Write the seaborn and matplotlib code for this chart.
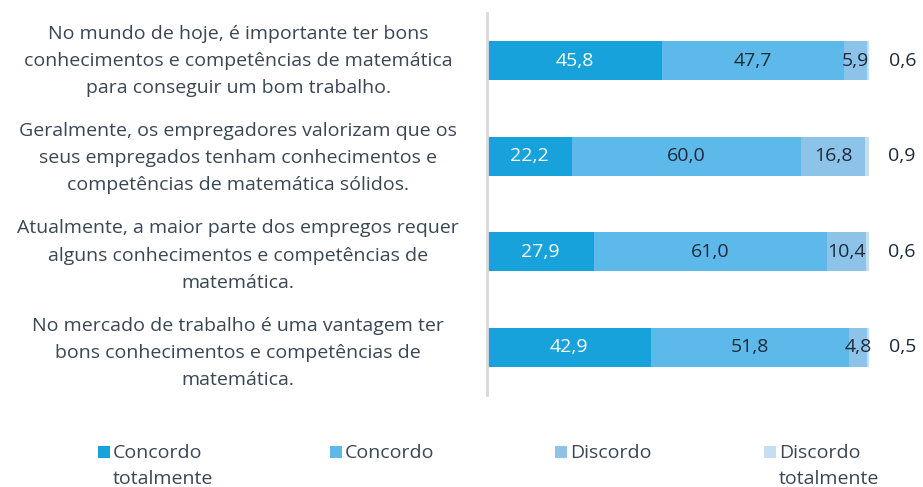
import numpy as np
import pandas as pd
import seaborn as sns
import matplotlib.pyplot as plt
from matplotlib.patches import Rectangle
from matplotlib.transforms import blended_transform_factory

# Survey statements (rows) and the four answer categories (stacked segments)
categories = [
    "No mundo de hoje, é importante ter bons\nconhecimentos e competências de matemática\npara conseguir um bom trabalho.",
    "Geralmente, os empregadores valorizam que os\nseus empregados tenham conhecimentos e\ncompetências de matemática sólidos.",
    "Atualmente, a maior parte dos empregos requer\nalguns conhecimentos e competências de\nmatemática.",
    "No mercado de trabalho é uma vantagem ter\nbons conhecimentos e competências de\nmatemática.",
]
series_names = ["Concordo\ntotalmente", "Concordo", "Discordo", "Discordo\ntotalmente"]

concordo_totalmente = [45.8, 22.2, 27.9, 42.9]
concordo = [47.7, 60.0, 61.0, 51.8]
discordo = [5.9, 16.8, 10.4, 4.8]
discordo_totalmente = [0.6, 0.9, 0.6, 0.5]

colors = ["#17a2db", "#5cb9e9", "#8dc2e9", "#c4def4"]
label_colors = ["white", "#1e2a38", "#1e2a38", "#1e2a38"]
text_color = "#3a4654"
FS = 14

sns.set_theme(style="white")
plt.rcParams["font.family"] = ["Open Sans", "DejaVu Sans"]

values = np.array([concordo_totalmente, concordo, discordo, discordo_totalmente])
cum = values.cumsum(axis=0)

df = pd.DataFrame({"statement": categories})
for i in range(len(series_names)):
    df[f"cum{i}"] = cum[i]

W, H = 923, 487
fig = plt.figure(figsize=(W / 100, H / 100), dpi=100)
ax = fig.add_axes([487 / W, 92 / H, 382 / W, 382 / H])

# Stacked bars: draw cumulative totals from the outermost segment inward
for i in range(len(series_names) - 1, -1, -1):
    sns.barplot(data=df, x=f"cum{i}", y="statement", orient="h",
                color=colors[i], width=0.41, saturation=1, ax=ax,
                edgecolor="none", linewidth=0)

ax.set_xlim(0, 100)
ax.set_ylim(3.5, -0.5)
ax.set_xlabel("")
ax.set_ylabel("")
ax.set_xticks([])
ax.set_yticks([])
for side in ["top", "right", "bottom"]:
    ax.spines[side].set_visible(False)
ax.spines["left"].set_color("#d9d9d9")
ax.spines["left"].set_linewidth(2)

# Value labels: centred in the segments, the last one outside the bar
for r in range(len(categories)):
    for i in range(len(series_names)):
        v = values[i, r]
        txt = f"{v:.1f}".replace(".", ",")
        if i < len(series_names) - 1:
            ax.text(cum[i, r] - v / 2, r, txt, ha="center", va="center",
                    fontsize=FS, color=label_colors[i])
        else:
            ax.annotate(txt, xy=(cum[i, r], r), xytext=(24, 0),
                        textcoords="offset points", ha="center", va="center",
                        fontsize=FS, color="#1e2a38")

# Statement labels to the left of the axis
trans = blended_transform_factory(fig.transFigure, ax.transData)
for r, cat in enumerate(categories):
    fig.text(238 / W, r + 0.02 * r, cat, ha="center", va="center", fontsize=FS,
             color=text_color, multialignment="center", linespacing=1.65,
             transform=trans)

# Legend: small square markers aligned with the first line of each label
legend_x = [98, 330, 555, 764]
sq = 12
for x, name, c in zip(legend_x, series_names, colors):
    fig.patches.append(Rectangle((x / W, (H - 452 - sq / 2) / H), sq / W, sq / H,
                                 transform=fig.transFigure, facecolor=c,
                                 edgecolor="none"))
    fig.text((x + sq + 3) / W, (H - 444) / H, name, ha="left", va="top",
             fontsize=FS, color=text_color, linespacing=1.6)

fig.savefig("out.png", dpi=100)
